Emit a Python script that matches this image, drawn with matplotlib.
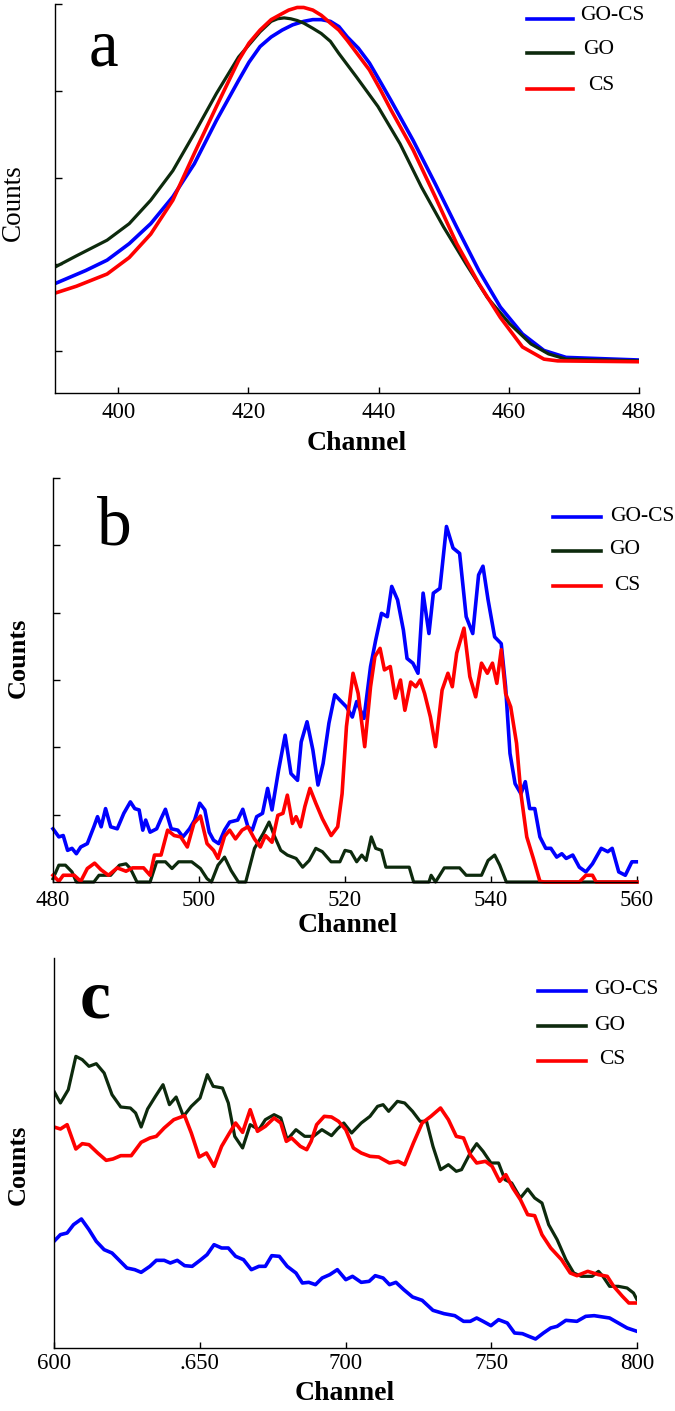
import matplotlib
matplotlib.use("Agg")
import matplotlib.pyplot as plt
from matplotlib.lines import Line2D

plt.rcParams['font.family'] = ['Liberation Serif', 'DejaVu Serif']

# ---- panel a ----
a_gocs_x = [390.3, 395.0, 398.3, 401.7, 405.0, 408.4, 411.7, 415.1, 418.5, 420.1, 421.8, 423.5, 425.2,
            426.8, 428.5, 429.9, 431.2, 432.6, 433.9, 435.2, 436.9, 438.6, 440.3, 441.9, 445.3, 448.7,
            452.0, 455.4, 458.7, 462.1, 465.4, 468.8, 480.0]
a_gocs_y = [0.78, 0.93, 1.05, 1.24, 1.47, 1.78, 2.16, 2.66, 3.12, 3.33, 3.51, 3.62, 3.70,
            3.76, 3.80, 3.82, 3.82, 3.80, 3.74, 3.62, 3.49, 3.32, 3.10, 2.89, 2.43, 1.93,
            1.43, 0.93, 0.51, 0.20, 0.01, -0.07, -0.10]
a_go_x = [390.3, 393.6, 398.3, 401.7, 405.0, 408.4, 411.7, 415.1, 418.5, 421.8, 423.5, 424.5, 425.5,
          426.5, 427.5, 428.5, 429.9, 431.2, 432.6, 433.9, 436.6, 439.9, 443.3, 446.6, 450.0, 453.4,
          456.7, 460.1, 463.4, 466.1, 468.8, 480.0]
a_go_y = [0.97, 1.10, 1.28, 1.47, 1.74, 2.08, 2.51, 2.97, 3.39, 3.68, 3.80, 3.83, 3.84,
          3.83, 3.81, 3.78, 3.72, 3.66, 3.57, 3.43, 3.16, 2.82, 2.39, 1.89, 1.43, 1.01,
          0.62, 0.32, 0.085, -0.03, -0.09, -0.11]
a_cs_x = [390.3, 393.6, 398.3, 401.7, 405.0, 408.4, 411.7, 415.1, 418.5, 420.1, 421.8, 423.5, 425.2,
          426.2, 427.5, 428.5, 429.9, 431.2, 432.6, 433.9, 435.2, 436.9, 438.6, 440.3, 441.9, 445.3,
          448.7, 452.0, 455.4, 458.7, 462.1, 465.4, 467.5, 480.0]
a_cs_y = [0.67, 0.75, 0.89, 1.08, 1.35, 1.74, 2.28, 2.82, 3.35, 3.55, 3.70, 3.82, 3.89,
          3.93, 3.96, 3.96, 3.93, 3.87, 3.78, 3.70, 3.58, 3.41, 3.24, 3.01, 2.78, 2.32,
          1.78, 1.24, 0.78, 0.39, 0.05, -0.09, -0.11, -0.12]

# ---- panel b ----
b_gocs_x = [480, 480.8, 481.4, 482, 482.6, 483.2, 483.8, 484.7, 485.6, 486.1, 486.6, 487.2, 487.9, 488.8,
            489.7, 490.6, 491.2, 491.8, 492.3, 492.7, 493.3, 494.2, 494.8, 495.4, 496.2, 497.1, 497.8,
            498.7, 499.4, 500.1, 500.8, 501.4, 502, 502.7, 503.5, 504.2, 505.3, 506, 506.7, 507.3, 507.9,
            508.7, 509.4, 510, 510.9, 511.8, 512.6, 513.5, 514, 514.8, 515.6, 516.3, 517, 517.8, 518.6,
            519.3, 520.2, 521, 521.6, 522.6, 523.5, 524.2, 525, 525.8, 526.4, 527.2, 528, 528.5, 529.3,
            530, 530.7, 531.5, 532.1, 533, 533.9, 534.8, 535.7, 536.6, 537.5, 538.3, 538.9, 539.6, 540.5,
            541.4, 542, 542.6, 543.3, 544.1, 544.7, 545.3, 546, 546.7, 547.5, 548.2, 549, 549.7, 550.3,
            551.2, 552.1, 553, 553.9, 555.1, 556, 556.6, 557.5, 558.4, 559.3, 559.9]
b_gocs_y = [0.79, 0.67, 0.69, 0.47, 0.50, 0.42, 0.52, 0.57, 0.82, 0.97, 0.82, 1.09, 0.82, 0.79,
            1.02, 1.19, 1.09, 1.07, 0.77, 0.92, 0.74, 0.79, 0.94, 1.08, 0.79, 0.77, 0.67,
            0.79, 0.92, 1.17, 1.07, 0.74, 0.62, 0.57, 0.77, 0.89, 0.92, 1.08, 0.82, 0.77, 0.97,
            1.02, 1.39, 1.07, 1.66, 2.18, 1.61, 1.51, 2.08, 2.38, 1.96, 1.44, 1.76, 2.36, 2.78,
            2.70, 2.60, 2.45, 2.68, 2.43, 3.20, 3.59, 3.99, 3.94, 4.39, 4.19, 3.74, 3.32, 3.25,
            3.10, 4.29, 3.69, 4.29, 4.36, 5.28, 4.96, 4.88, 3.94, 3.69, 4.56, 4.69, 4.19, 3.64,
            3.54, 2.90, 1.91, 1.46, 1.31, 1.49, 1.09, 1.09, 0.67, 0.50, 0.50, 0.37, 0.42, 0.35,
            0.40, 0.22, 0.15, 0.27, 0.50, 0.45, 0.50, 0.15, 0.10, 0.30, 0.30]
b_go_x = [480, 480.8, 481.7, 482.6, 483.2, 485.6, 486.3, 487.9, 489.1, 490, 490.6, 491.5, 493.3, 494.2,
          495.4, 496.3, 497.2, 499, 500.2, 501.1, 501.7, 502.6, 503.5, 504.4, 505.4, 506.4, 507.6,
          508.8, 509.6, 510.3, 511.2, 512.1, 513.3, 514.2, 515.1, 516, 516.9, 518.1, 519.3, 520,
          520.8, 521.6, 522.3, 522.9, 523.6, 524.2, 525, 525.6, 528.8, 529.4, 531.5, 531.8, 532.4,
          533.6, 535.7, 536.6, 538.7, 539.6, 540.5, 541.2, 542.1, 560]
b_go_y = [0.05, 0.25, 0.25, 0.15, 0, 0, 0.10, 0.10, 0.25, 0.27, 0.20, 0, 0, 0.30,
          0.30, 0.20, 0.30, 0.30, 0.20, 0.05, 0, 0.25, 0.37, 0.17, 0, 0, 0.50,
          0.72, 0.89, 0.69, 0.47, 0.40, 0.35, 0.22, 0.32, 0.50, 0.45, 0.30, 0.30, 0.47,
          0.45, 0.30, 0.40, 0.32, 0.67, 0.50, 0.47, 0.22, 0.22, 0, 0, 0.10, 0,
          0.21, 0.21, 0.10, 0.10, 0.32, 0.40, 0.25, 0, 0]
b_cs_x = [480, 480.8, 481.4, 482.9, 483.8, 484.7, 485.7, 486.6, 487.6, 488.8, 490, 490.9, 492.4, 493.3,
          493.9, 494.8, 495.7, 496.6, 497.5, 498.4, 499.3, 500.2, 501.1, 502, 502.6, 503.5, 504.2,
          505, 505.9, 506.7, 507.6, 508.4, 509.1, 510, 510.8, 511.5, 512.1, 512.8, 513.3, 513.9,
          514.5, 515.2, 516, 516.9, 518.1, 519, 519.6, 520.2, 521.1, 521.8, 522.7, 523.5, 524.1,
          524.8, 525.4, 526.2, 526.9, 527.6, 528.2, 529, 529.7, 530.3, 530.9, 531.7, 532.4, 533.3,
          534.1, 534.7, 535.3, 536.3, 537.1, 537.9, 538.7, 539.5, 540.2, 540.8, 541.4, 542, 542.7,
          543.5, 544.1, 544.9, 545.8, 546.7, 547.3, 552.1, 553, 553.9, 554.4, 560]
b_cs_y = [0.10, 0.01, 0.10, 0.10, 0.01, 0.20, 0.28, 0.18, 0.10, 0.21, 0.16, 0.21, 0.21, 0.10,
          0.40, 0.40, 0.77, 0.69, 0.67, 0.52, 0.87, 0.98, 0.57, 0.47, 0.35, 0.68, 0.77,
          0.64, 0.77, 0.82, 0.64, 0.52, 0.69, 0.59, 0.99, 1.02, 1.29, 0.87, 0.97, 0.82,
          1.12, 1.39, 1.17, 0.94, 0.69, 0.82, 1.31, 2.31, 3.10, 2.80, 2.01, 2.90, 3.35,
          3.47, 3.15, 3.20, 2.73, 3.00, 2.55, 2.97, 2.90, 3.00, 2.80, 2.45, 2.01, 2.85,
          3.10, 2.90, 3.40, 3.77, 3.05, 2.75, 3.25, 3.10, 3.25, 2.95, 3.45, 2.80, 2.60,
          2.06, 1.31, 0.67, 0.35, 0.01, 0, 0, 0.10, 0.10, 0, 0]

# ---- panel c ----
c_gocs_x = [600, 602.2, 604.5, 606.7, 609.4, 612, 614.5, 617.2, 619.9, 622.4, 625, 627.7, 629.9, 632.9,
            635.1, 637.8, 639.9, 642.3, 644.8, 647.4, 650.1, 652.5, 654.9, 657.5, 659.8, 662.3, 665,
            667.7, 670.3, 672.5, 674.7, 677.3, 680, 683, 685.2, 687.4, 689.7, 692, 694.6, 697.2,
            700.1, 702.4, 705.4, 708.1, 710.2, 712.9, 715.1, 717.3, 720, 723, 726.3, 730, 733.8,
            737.5, 740.5, 742.8, 745, 747.2, 749.9, 752.5, 755.5, 758, 760.7, 762.9, 765.2, 767.9,
            770.4, 772.6, 775.6, 779.4, 782.4, 785.3, 788.3, 790.6, 793.6, 796.6, 800]
c_gocs_y = [3.20, 3.40, 3.45, 3.70, 3.87, 3.55, 3.20, 2.95, 2.85, 2.63, 2.40, 2.35, 2.27, 2.45,
            2.63, 2.63, 2.55, 2.63, 2.47, 2.45, 2.63, 2.80, 3.10, 3.00, 3.00, 2.75, 2.65,
            2.35, 2.45, 2.45, 2.77, 2.75, 2.45, 2.25, 1.95, 1.97, 1.90, 2.10, 2.20, 2.35,
            2.05, 2.15, 1.97, 2.00, 2.17, 2.10, 1.90, 1.97, 1.75, 1.53, 1.43, 1.13, 1.03,
            0.97, 0.80, 0.80, 0.90, 0.80, 0.67, 0.85, 0.75, 0.45, 0.43, 0.35, 0.27, 0.45,
            0.60, 0.65, 0.83, 0.80, 0.95, 0.97, 0.93, 0.90, 0.75, 0.60, 0.50]
c_go_x = [600, 602.2, 604.9, 607.5, 609.7, 612, 614.5, 617.2, 619.9, 622.9, 626.2, 628, 629.9, 632.1,
          634.8, 637.4, 639.6, 641.9, 644.4, 647.1, 650.1, 652.6, 654.6, 657.8, 659.8, 662, 664.7,
          667.3, 670.3, 672.5, 675.5, 677.8, 680, 683, 686, 689, 691.9, 695.2, 697.2, 699.4,
          702.1, 705.4, 708.4, 711, 712.9, 714.8, 717.8, 720.3, 723, 725.6, 727.8, 730, 732.6,
          735.3, 738, 739.8, 742.8, 745, 747.2, 749.9, 752.5, 754.7, 757, 760, 762.5, 764.9,
          767.4, 769.7, 772.6, 775.6, 778.3, 780.9, 784.6, 786.8, 788.3, 790.6, 793.6, 796.6,
          798.8, 800]
c_go_y = [7.70, 7.35, 7.75, 8.75, 8.65, 8.45, 8.53, 8.25, 7.60, 7.23, 7.20, 7.05, 6.63, 7.17,
          7.55, 7.90, 7.30, 7.53, 6.95, 7.25, 7.50, 8.20, 7.85, 7.80, 7.35, 6.35, 6.00,
          6.70, 6.55, 6.85, 7.00, 6.90, 6.25, 6.55, 6.35, 6.35, 6.55, 6.37, 6.57, 6.75,
          6.45, 6.75, 6.95, 7.25, 7.30, 7.10, 7.40, 7.35, 7.10, 6.80, 6.80, 6.05, 5.35,
          5.50, 5.30, 5.35, 5.85, 6.13, 5.90, 5.55, 5.55, 5.05, 4.95, 4.50, 4.77, 4.50,
          4.35, 3.70, 3.25, 2.65, 2.25, 2.15, 2.15, 2.30, 2.15, 1.85, 1.85, 1.80,
          1.65, 1.45]
c_cs_x = [600, 602.2, 604.5, 607.5, 609.7, 612, 615, 617.9, 620.2, 622.9, 626.5, 629.9, 632.9, 635.1,
          637.8, 641.1, 644.8, 647.1, 649.8, 652.3, 654.9, 657.5, 660.2, 662.3, 664.7, 667.3, 669.8,
          672.5, 675.5, 677.8, 679.7, 681.5, 684.5, 686.7, 688.2, 690.1, 692.7, 695.2, 697.6, 700.1,
          702.7, 705.4, 708.4, 711.4, 715.1, 718.1, 720.3, 723.3, 726.3, 729.3, 732.6, 735.3, 738,
          740.5, 742.8, 745, 748, 750.3, 752.9, 755, 757.4, 760, 762.5, 764.9, 767.4, 770.4,
          774.1, 777.1, 779.4, 783.1, 786.8, 789.8, 792, 795, 797.2, 800]
c_cs_y = [6.63, 6.57, 6.70, 5.97, 6.13, 6.10, 5.85, 5.63, 5.67, 5.77, 5.77, 6.17, 6.30, 6.35,
          6.60, 6.85, 6.97, 6.45, 5.73, 5.85, 5.45, 6.05, 6.45, 6.75, 6.47, 7.15, 6.50,
          6.65, 6.90, 6.75, 6.20, 6.30, 6.05, 5.95, 6.20, 6.70, 6.95, 6.93, 6.80, 6.55,
          6.00, 5.85, 5.75, 5.73, 5.55, 5.60, 5.50, 6.15, 6.75, 6.95, 7.20, 6.85, 6.35,
          6.30, 5.80, 5.55, 5.60, 5.45, 5.00, 5.20, 4.80, 4.45, 4.00, 3.97, 3.40, 3.00,
          2.65, 2.25, 2.17, 2.30, 2.20, 2.15, 1.85, 1.55, 1.35, 1.35]

series_names = ['GO-CS', 'GO', 'CS']
series_colors = ['#0000ff', '#0d2a0d', '#ff0000']

W, H = 675, 1411
fig = plt.figure(figsize=(W / 100, H / 100), dpi=100)


def px_axes(left, top, right, bottom):
    return fig.add_axes([left / W, 1 - bottom / H, (right - left) / W, (bottom - top) / H])


def ftext(x, y, s, **kw):
    fig.text(x / W, 1 - y / H, s, **kw)


def style(ax, xticks, xlabels, yticks, pad):
    for side in ['top', 'right']:
        ax.spines[side].set_visible(False)
    for side in ['left', 'bottom']:
        ax.spines[side].set_linewidth(1.0)
    ax.set_xticks(xticks)
    ax.set_xticklabels(xlabels)
    ax.set_yticks(yticks)
    ax.set_yticklabels([])
    ax.tick_params(axis='x', direction='in', length=4, width=1, labelsize=16.5, pad=pad)
    ax.tick_params(axis='y', direction='in', length=5, width=1)


def legend(x0, x1, ys, tx, tys_off):
    for name, color, y, dx in zip(series_names, series_colors, ys, tx):
        fig.add_artist(Line2D([x0 / W, x1 / W], [1 - y / H, 1 - y / H], color=color, lw=2.6,
                              transform=fig.transFigure))
        ftext(dx, y - tys_off, name, fontsize=15.5, va='center', ha='left')


def draw(ax, xs, ys, clip=True):
    widths = [2.6, 2.3, 2.6]
    for x, y, c, w in zip(xs, ys, series_colors, widths):
        ax.plot(x, y, color=c, lw=w, clip_on=clip, solid_joinstyle='round')


# panel a
ax = px_axes(55, 4, 639, 393)
draw(ax, [a_gocs_x, a_go_x, a_cs_x], [a_gocs_y, a_go_y, a_cs_y])
ax.set_xlim(390.3, 480)
ax.set_ylim(-0.48, 4.0)
style(ax, [400, 420, 440, 460, 480], ['400', '420', '440', '460', '480'], [0, 1, 2, 3, 4], 6.5)
ftext(103, 65, 'a', fontsize=48, ha='center', va='baseline')
ftext(13, 203, 'Counts', fontsize=19.5, rotation=90, ha='center', va='center')
ftext(357, 444, 'Channel', fontsize=20, fontweight='bold', ha='center', va='center')
legend(527, 573, [19, 53, 89], [580, 583, 588], 4)

# panel b
ax = px_axes(53, 478, 637, 882)
draw(ax, [b_gocs_x, b_go_x, b_cs_x], [b_gocs_y, b_go_y, b_cs_y], clip=False)
ax.set_xlim(480, 560)
ax.set_ylim(0, 6)
style(ax, [480, 500, 520, 540, 560], ['480', '500', '520', '540', '560'], [1, 2, 3, 4, 5, 6], 6)
ftext(114, 545, 'b', fontsize=50, ha='center', va='baseline')
ftext(18, 658, 'Counts', fontsize=19, fontweight='bold', rotation=90, ha='center', va='center')
ftext(348, 926, 'Channel', fontsize=20, fontweight='bold', ha='center', va='center')
legend(553, 601, [517, 551, 586], [610, 609, 614], 1)

# panel c
ax = px_axes(54, 958, 637, 1348)
draw(ax, [c_gocs_x, c_go_x, c_cs_x], [c_gocs_y, c_go_y, c_cs_y])
ax.set_xlim(600, 800)
ax.set_ylim(0, 11.7)
style(ax, [600, 650, 700, 750, 800], ['600', '.650', '700', '750', '800'], [], 3.6)
ftext(95, 1017, 'c', fontsize=50, fontweight='bold', ha='center', va='baseline')
ftext(18, 1165, 'Counts', fontsize=19, fontweight='bold', rotation=90, ha='center', va='center')
ftext(345, 1394, 'Channel', fontsize=20, fontweight='bold', ha='center', va='center')
legend(538, 586, [991, 1026, 1061], [594, 594, 599], 1)

fig.savefig('out.png', dpi=100)
